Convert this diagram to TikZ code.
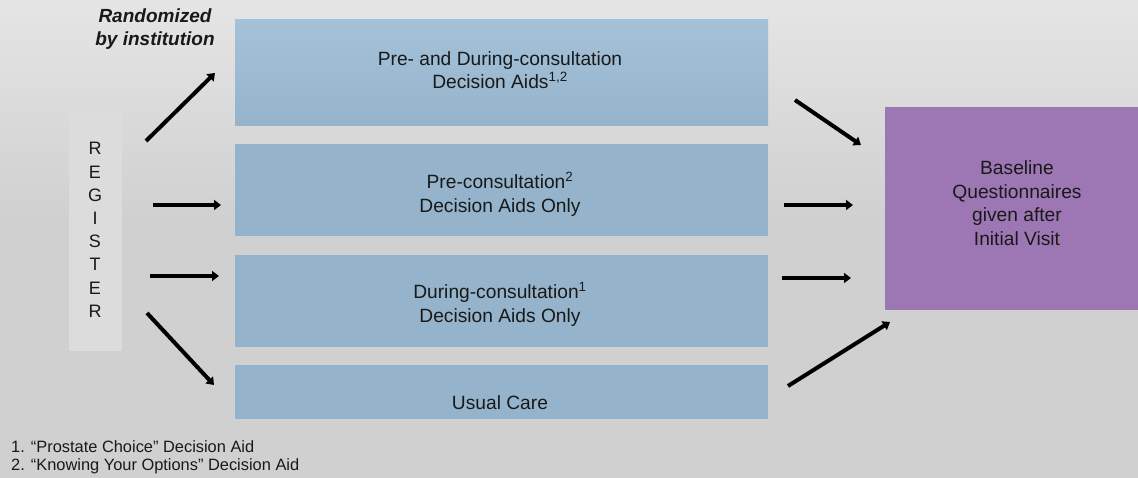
\documentclass[tikz,border=0pt]{standalone}
\usepackage{fontspec}
\setmainfont{Liberation Sans}
\usetikzlibrary{arrows.meta}
\definecolor{bgtop}{HTML}{E5E5E5}
\definecolor{bgbot}{HTML}{D0D0D0}
\definecolor{armtop}{HTML}{A4C1D8}
\definecolor{arm}{HTML}{95B4CB}
\definecolor{regfill}{HTML}{DCDCDC}
\definecolor{outfill}{HTML}{9D77B4}
\begin{document}
\begin{tikzpicture}[x=1pt,y=-1pt,
  box/.style={inner sep=0pt,outer sep=0pt,anchor=north west},
  txt/.style={font=\fontsize{19.2}{23.5}\selectfont,align=center,text=black!90,inner sep=0pt},
  note/.style={font=\fontsize{16.4}{19}\selectfont,anchor=west,inner sep=0pt,text=black!90},
  flow/.style={line width=4pt,-{Triangle[length=7pt,width=10pt]},black}]
% background
\useasboundingbox (0,0) rectangle (1138,478);
\fill[bgbot] (0,0) rectangle (1138,478);
\shade[top color=bgtop,bottom color=bgbot] (0,0) rectangle (1138,220);
% register column
\node[box,fill=regfill,minimum width=53pt,minimum height=240pt] (r) at (69,111) {};
\node[txt,font=\fontsize{18}{23.2}\selectfont] (rt) at (95,230) {R\\E\\G\\I\\S\\T\\E\\R};
% study arms
\node[box,top color=armtop,bottom color=arm,minimum width=533pt,minimum height=106pt] (d1) at (235,20) {};
\node[box,fill=arm,minimum width=533pt,minimum height=92pt] (d2) at (235,144) {};
\node[box,fill=arm,minimum width=533pt,minimum height=92pt] (d3) at (235,255) {};
\node[box,fill=arm,minimum width=533pt,minimum height=54pt] (d4) at (235,365) {};
\node[txt] (t1) at (500,70) {Pre- and During-consultation\\Decision Aids\textsuperscript{1,2}};
\node[txt] (t2) at (500,194) {Pre-consultation\textsuperscript{2}\\Decision Aids Only};
\node[txt] (t3) at (500,304) {During-consultation\textsuperscript{1}\\Decision Aids Only};
\node[txt] (t4) at (500,403) {Usual Care};
% outcome
\node[box,fill=outfill,minimum width=253pt,minimum height=203pt] (b) at (885,107) {};
\node[txt] (bt) at (1017,203) {Baseline\\Questionnaires\\given after\\Initial Visit};
% randomisation label
\node[txt,font=\fontsize{19}{23}\bfseries\itshape] (rand) at (155,29) {Randomized\\by institution};
% arrow end points
\coordinate (a1s) at (146,141); \coordinate (a1e) at (215,73);
\coordinate (a2s) at (153,205); \coordinate (a2e) at (221,205);
\coordinate (a3s) at (150,276); \coordinate (a3e) at (219,276);
\coordinate (a4s) at (147,313); \coordinate (a4e) at (214,385);
\coordinate (b1s) at (795,100); \coordinate (b1e) at (861,145);
\coordinate (b2s) at (784,205); \coordinate (b2e) at (853,205);
\coordinate (b3s) at (782,278); \coordinate (b3e) at (851,278);
\coordinate (b4s) at (788,386); \coordinate (b4e) at (890,322);
\foreach \p in {a1,a2,a3,a4,b1,b2,b3,b4} \draw[flow] (\p s) -- (\p e);
% footnotes
\node[note] (n1) at (11,447) {1. “Prostate Choice” Decision Aid};
\node[note] (n2) at (11,466) {2. “Knowing Your Options” Decision Aid};
\end{tikzpicture}
\end{document}
